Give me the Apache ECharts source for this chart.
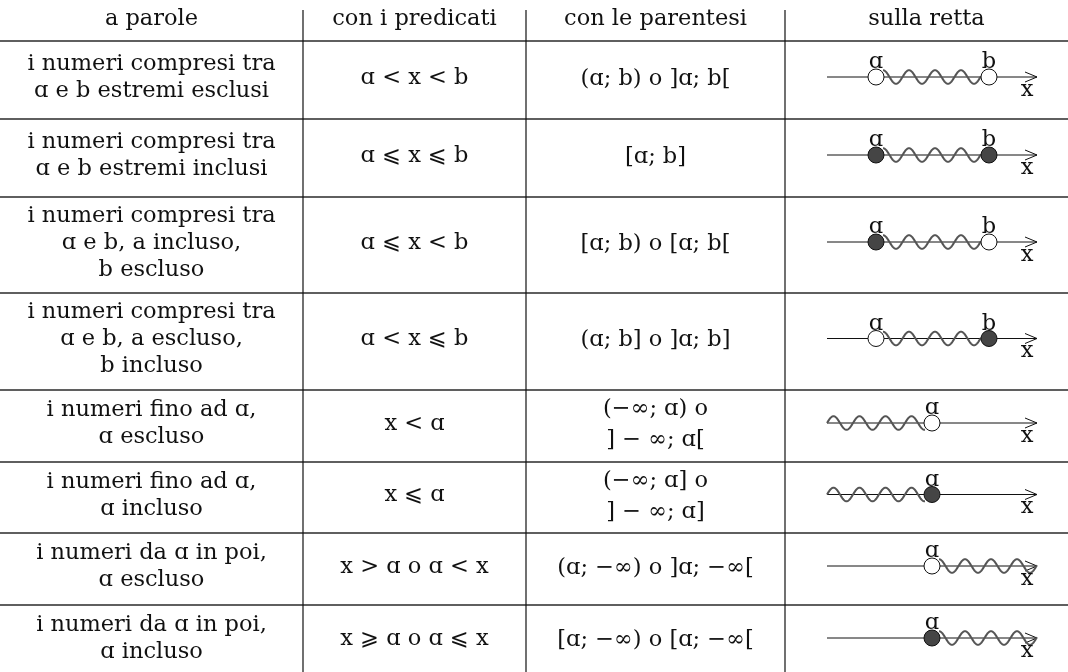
<!DOCTYPE html>
<html><head><meta charset="utf-8">
<script src="https://cdn.jsdelivr.net/npm/echarts@6/dist/echarts.min.js"></script>
<style>html,body{margin:0;padding:0;background:#fff}#c{width:1068px;height:672px}</style>
</head><body><div id="c"></div>
<script>
// ---- table content ----
const headers = ['a parole', 'con i predicati', 'con le parentesi', 'sulla retta'];
const inWords = [
  ['i numeri compresi tra', 'ɑ e b estremi esclusi'],
  ['i numeri compresi tra', 'ɑ e b estremi inclusi'],
  ['i numeri compresi tra', 'ɑ e b, a incluso,', 'b escluso'],
  ['i numeri compresi tra', 'ɑ e b, a escluso,', 'b incluso'],
  ['i numeri fino ad ɑ,', 'ɑ escluso'],
  ['i numeri fino ad ɑ,', 'ɑ incluso'],
  ['i numeri da ɑ in poi,', 'ɑ escluso'],
  ['i numeri da ɑ in poi,', 'ɑ incluso']
];
const predicates = ['ɑ < x < b', 'ɑ ⩽ x ⩽ b', 'ɑ ⩽ x < b', 'ɑ < x ⩽ b', 'x < ɑ', 'x ⩽ ɑ', 'x > ɑ o ɑ < x', 'x ⩾ ɑ o ɑ ⩽ x'];
const brackets = [
  ['(ɑ; b) o ]ɑ; b['],
  ['[ɑ; b]'],
  ['[ɑ; b) o [ɑ; b['],
  ['(ɑ; b] o ]ɑ; b]'],
  ['(−∞; ɑ) o', '] − ∞; ɑ['],
  ['(−∞; ɑ] o', '] − ∞; ɑ]'],
  ['(ɑ; −∞) o ]ɑ; −∞['],
  ['[ɑ; −∞) o [ɑ; −∞[']
];
const figureKind = ['between', 'between', 'between', 'between', 'left', 'left', 'right', 'right'];
const endA = ['open', 'filled', 'filled', 'open', 'open', 'filled', 'open', 'filled'];
const endB = ['open', 'filled', 'open', 'filled', null, null, null, null];

// ---- layout ----
const colEdges = [0, 303, 526, 785, 1068];
const rowEdges = [41, 119, 197, 293, 390, 462, 533, 605, 677];
const FONT = '22.5px "DejaVu Serif", "DejaVu Sans", serif';
const LH = 27;

function txt(p, s, font, align) {
  return { type: 'text', style: { text: s, x: p[0], y: p[1], font: font || FONT, fill: '#111',
    textAlign: align || 'center', textVerticalAlign: 'middle', align: align || 'center', verticalAlign: 'middle' } };
}

function renderRow(params, api) {
  const i = api.value(0);
  const top = rowEdges[i], bot = rowEdges[i + 1];
  const cy = (top + bot) / 2 - 2;
  const ch = [];
  const colC = k => (colEdges[k] + colEdges[k + 1]) / 2;
  // column 1
  const w = inWords[i];
  w.forEach((s, j) => ch.push(txt(api.coord([colC(0), cy + (j - (w.length - 1) / 2) * LH]), s)));
  // column 2
  ch.push(txt(api.coord([colC(1), cy]), predicates[i]));
  // column 3
  const b = brackets[i];
  b.forEach((s, j) => ch.push(txt(api.coord([colC(2), cy + 1 + (j - (b.length - 1) / 2) * 31]), s)));
  // column 4: number line
  const c0 = colEdges[3];
  const ly = cy - 1;
  const xs = c0 + 42, xe = c0 + 252;
  const aX = figureKind[i] === 'between' ? c0 + 91 : c0 + 147;
  const bX = c0 + 204;
  const r = 8, A = 6.8, P = 26;
  const p = (x, y) => api.coord([x, y]);
  ch.push({ type: 'line', shape: { x1: p(xs, ly)[0], y1: p(xs, ly)[1], x2: p(xe, ly)[0], y2: p(xe, ly)[1] },
    style: { stroke: '#111', lineWidth: 1 } });
  ch.push({ type: 'polyline', shape: { points: [p(xe - 12, ly - 5), p(xe, ly), p(xe - 12, ly + 5)] },
    style: { stroke: '#111', lineWidth: 1, fill: null } });
  // wave
  let wx0, wx1, mode;
  if (figureKind[i] === 'between') { wx0 = aX + 7; wx1 = bX - r; mode = 'cos'; }
  else if (figureKind[i] === 'left') { wx0 = xs; wx1 = aX - r + 1; mode = 'sin'; }
  else { wx0 = aX + 7; wx1 = xe; mode = 'cos'; }
  const pts = [];
  for (let x = wx0; x <= wx1 + 0.01; x += 0.5) {
    const t = 2 * Math.PI * (x - wx0) / P;
    const y = ly - A * (mode === 'cos' ? Math.cos(t) : Math.sin(t));
    pts.push(p(x, y));
  }
  ch.push({ type: 'polyline', shape: { points: pts }, style: { stroke: '#555', lineWidth: 2, fill: null } });
  // circles and labels
  const dot = (x, kind) => ch.push({ type: 'circle', shape: { cx: p(x, ly)[0], cy: p(x, ly)[1], r: r },
    style: { fill: kind === 'filled' ? '#454545' : '#fff', stroke: '#111', lineWidth: 1 } });
  dot(aX, endA[i]);
  ch.push(txt(p(aX, ly - 14.5), 'ɑ'));
  if (endB[i]) { dot(bX, endB[i]); ch.push(txt(p(bX, ly - 14.5), 'b')); }
  ch.push(txt(p(xe - 10, ly + 13), 'x'));
  return { type: 'group', children: ch };
}

function renderRules(params, api) {
  const ch = [];
  const p = (x, y) => api.coord([x, y]);
  rowEdges.forEach((y, k) => {
    ch.push({ type: 'line', shape: { x1: p(0, y)[0], y1: p(0, y)[1], x2: p(1068, y)[0], y2: p(1068, y)[1] },
      style: { stroke: '#2a2a2a', lineWidth: 1.3 } });
  });
  colEdges.slice(1, 4).forEach(x => {
    ch.push({ type: 'line', shape: { x1: p(x, 10)[0], y1: p(x, 10)[1], x2: p(x, 677)[0], y2: p(x, 677)[1] },
      style: { stroke: '#111', lineWidth: 1.2 } });
  });
  headers.forEach((h, k) => ch.push(txt(p((colEdges[k] + colEdges[k + 1]) / 2, 19), h)));
  return { type: 'group', children: ch };
}

const chart = echarts.init(document.getElementById('c'), null, { renderer: 'canvas' });
chart.setOption({
  animation: false,
  backgroundColor: '#fff',
  grid: { left: 0, right: 0, top: 0, bottom: 0 },
  xAxis: { type: 'value', min: 0, max: 1068, show: false },
  yAxis: { type: 'value', min: 0, max: 672, inverse: true, show: false },
  series: [
    { type: 'custom', name: 'rules', data: [[0]], renderItem: renderRules, clip: false, silent: true },
    { type: 'custom', name: 'rows', data: inWords.map((_, i) => [i]), renderItem: renderRow, clip: false, silent: true }
  ]
});
</script></body></html>
